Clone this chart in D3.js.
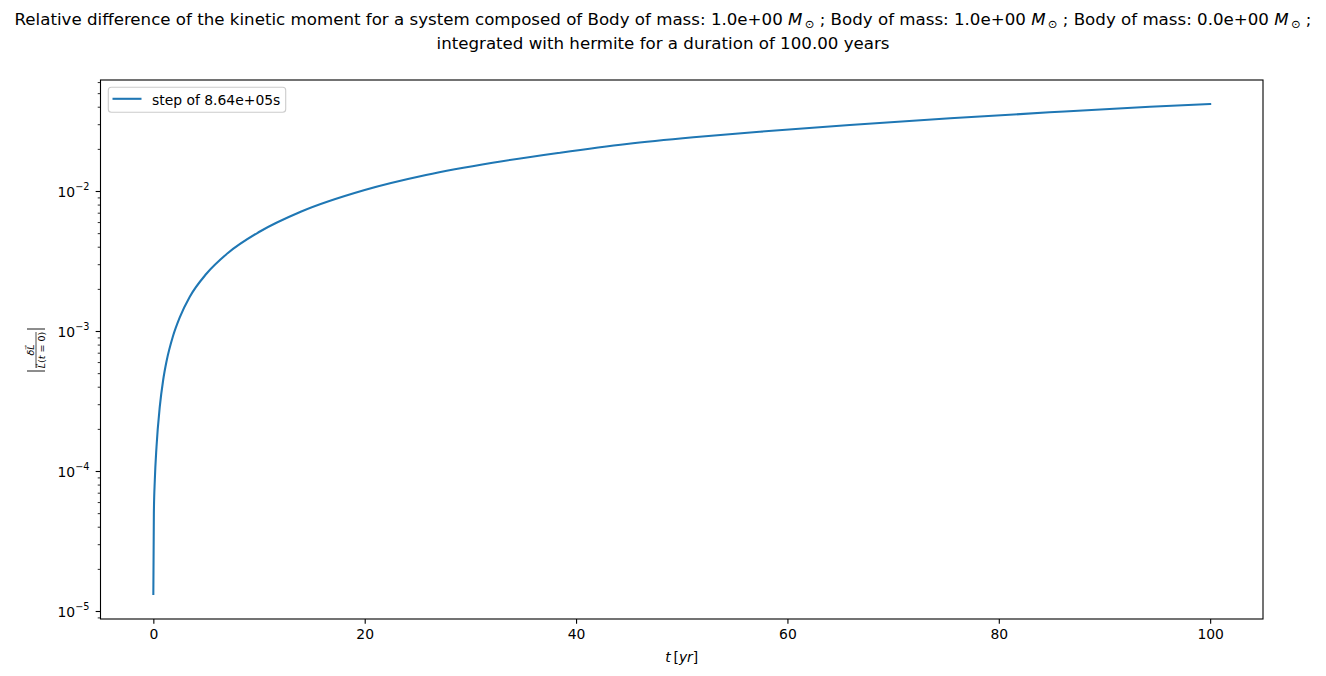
<!DOCTYPE html>
<html>
<head>
<meta charset="utf-8">
<script src="https://cdn.jsdelivr.net/npm/d3@7"></script>
<style>
  html, body { margin: 0; padding: 0; background: #fff; }
  svg { display: block; font-family: "DejaVu Sans", sans-serif; }
</style>
</head>
<body>
<svg id="chart" width="1326" height="676"></svg>
<script>
// ---- data ----
const timeYears = [0, 0.05, 0.14, 0.30, 0.61, 0.93, 1.25, 1.87, 2.5, 3.45, 5, 7, 10, 14, 20, 25.8, 32.1, 38.5, 44.8, 51.1, 57.4, 65.9, 75.4, 84.8, 94.3, 100];
const relDiff = [1.322e-5, 5.01e-5, 8.62e-5, 1.491e-4, 2.879e-4, 4.467e-4, 6.085e-4, 9.256e-4, 1.253e-3, 1.758e-3, 2.553e-3, 3.578e-3, 5.094e-3, 7.137e-3, 1.0166e-2, 1.301e-2, 1.592e-2, 1.877e-2, 2.166e-2, 2.418e-2, 2.652e-2, 2.960e-2, 3.305e-2, 3.648e-2, 4.000e-2, 4.182e-2];
const seriesLabel = "step of 8.64e+05s";
const xTicks = [0, 20, 40, 60, 80, 100];
const yMajorExps = [-5, -4, -3, -2];
const massLabels = ["1.0e+00", "1.0e+00", "0.0e+00"];
const titleLine2 = "integrated with hermite for a duration of 100.00 years";

// ---- layout ----
const svg = d3.select("#chart");
const L = 100.5, R = 1263, T = 80, B = 619;
const blue = "#1f77b4";
const tickFont = 13.9;

const x = d3.scaleLinear().domain([-5, 105]).range([L, R]);
const y = d3.scaleLog().domain([Math.pow(10, -5.0571), Math.pow(10, -1.2071)]).range([B, T]);

// ---- line ----
const pts = timeYears.map((t, i) => [t, relDiff[i]]);
const line = d3.line().x(d => x(d[0])).y(d => y(d[1])).curve(d3.curveMonotoneX);
svg.append("path").attr("d", line(pts)).attr("fill", "none")
  .attr("stroke", blue).attr("stroke-width", 2.08).attr("stroke-linecap", "square");

// ---- axes ----
const xAxis = d3.axisBottom(x).tickValues(xTicks).tickSize(4.86).tickPadding(4.9).tickFormat(d3.format("d"));
const gx = svg.append("g").attr("transform", `translate(0,${B})`).call(xAxis);
gx.select(".domain").remove();
gx.selectAll("line").attr("stroke", "#000").attr("stroke-width", 1.1);
gx.selectAll("text").attr("font-size", tickFont).attr("font-family", "DejaVu Sans").attr("fill", "#000");

// y major ticks
const majorVals = yMajorExps.map(e => Math.pow(10, e));
const gy = svg.append("g").attr("transform", `translate(${L},0)`)
  .call(d3.axisLeft(y).tickValues(majorVals).tickSize(4.86).tickFormat(""));
gy.select(".domain").remove();
gy.selectAll("line").attr("stroke", "#000").attr("stroke-width", 1.1);

// y minor ticks
const [d0, d1] = y.domain();
const minorVals = [];
for (let e = -6; e <= -1; e++) for (let m = 2; m <= 9; m++) {
  const v = m * Math.pow(10, e);
  if (v >= d0 && v <= d1) minorVals.push(v);
}
const gyMinor = svg.append("g").attr("transform", `translate(${L},0)`)
  .call(d3.axisLeft(y).tickValues(minorVals).tickSize(2.78).tickFormat(""));
gyMinor.select(".domain").remove();
gyMinor.selectAll("line").attr("stroke", "#000").attr("stroke-width", 0.83);

// y tick labels with superscripts
yMajorExps.forEach(e => {
  const t = svg.append("text").attr("x", L - 11).attr("y", y(Math.pow(10, e)) + 6)
    .attr("text-anchor", "end").attr("font-size", tickFont).attr("fill", "#000");
  t.append("tspan").text("10");
  t.append("tspan").attr("dy", -7).attr("font-size", 9.7).text("\u2212" + Math.abs(e));
});

// spines
svg.append("rect").attr("x", L).attr("y", T).attr("width", R - L).attr("height", B - T)
  .attr("fill", "none").attr("stroke", "#000").attr("stroke-width", 1.1);

// ---- legend ----
svg.append("rect").attr("x", 108.3).attr("y", 87.3).attr("width", 177.4).attr("height", 25)
  .attr("rx", 3).attr("fill", "#fff").attr("fill-opacity", 0.8)
  .attr("stroke", "#cccccc").attr("stroke-width", 1.1);
svg.append("line").attr("x1", 112.5).attr("x2", 141.5).attr("y1", 98.8).attr("y2", 98.8)
  .attr("stroke", blue).attr("stroke-width", 2.08);
svg.append("text").attr("x", 152).attr("y", 104.5).attr("font-size", tickFont).attr("fill", "#000")
  .text(seriesLabel);

// ---- title ----
const cx = 663;
const title = svg.append("text").attr("x", cx).attr("y", 24.5).attr("text-anchor", "middle")
  .attr("font-size", 16.67).attr("fill", "#000");
title.append("tspan").text("Relative difference of the kinetic moment for a system composed of ");
massLabels.forEach((m, i) => {
  title.append("tspan").text(`Body of mass: ${m} `);
  title.append("tspan").attr("font-style", "italic").text("M");
  title.append("tspan").attr("dy", 3).attr("font-size", 11.5).text("\u2009\u2299");
  title.append("tspan").attr("dy", -3).text(i < massLabels.length - 1 ? " ; " : " ;");
});
svg.append("text").attr("x", cx).attr("y", 49).attr("text-anchor", "middle")
  .attr("font-size", 16.67).attr("fill", "#000").text(titleLine2);

// ---- x label ----
const xl = svg.append("text").attr("x", (L + R) / 2).attr("y", 662).attr("text-anchor", "middle")
  .attr("font-size", tickFont).attr("fill", "#000");
xl.append("tspan").attr("font-style", "italic").text("t");
xl.append("tspan").text("\u2009[");
xl.append("tspan").attr("font-style", "italic").text("yr");
xl.append("tspan").text("]");

// ---- y label (fraction inside absolute bars, rotated) ----
const yl = svg.append("g").attr("transform", "translate(36,350) rotate(-90)");
yl.append("line").attr("x1", -21).attr("x2", -21).attr("y1", -9).attr("y2", 9).attr("stroke", "#000").attr("stroke-width", 0.9);
yl.append("line").attr("x1", 21).attr("x2", 21).attr("y1", -9).attr("y2", 9).attr("stroke", "#000").attr("stroke-width", 0.9);
yl.append("line").attr("x1", -18).attr("x2", 18).attr("y1", 0).attr("y2", 0).attr("stroke", "#000").attr("stroke-width", 0.7);
const num = yl.append("text").attr("x", 0).attr("y", -2).attr("text-anchor", "middle").attr("font-size", 9.5).attr("fill", "#000");
num.append("tspan").attr("font-style", "italic").text("\u03b4L\u20d7");
const den = yl.append("text").attr("x", 0).attr("y", 8.5).attr("text-anchor", "middle").attr("font-size", 9.5).attr("fill", "#000");
den.append("tspan").attr("font-style", "italic").text("L\u20d7");
den.append("tspan").text("(");
den.append("tspan").attr("font-style", "italic").text("t");
den.append("tspan").text(" = 0)");
</script>
</body>
</html>
